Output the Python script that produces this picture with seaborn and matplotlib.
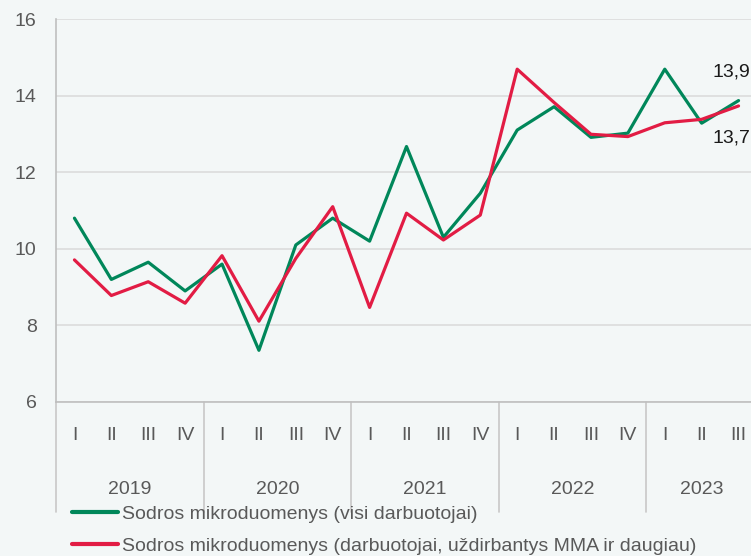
import matplotlib
matplotlib.use("Agg")
import matplotlib.pyplot as plt
import matplotlib.transforms as mtransforms
from matplotlib.lines import Line2D
import seaborn as sns
import pandas as pd

quarters = ["I", "II", "III", "IV", "I", "II", "III", "IV", "I", "II", "III", "IV",
            "I", "II", "III", "IV", "I", "II", "III"]
years = ["2019", "2020", "2021", "2022", "2023"]
year_sizes = [4, 4, 4, 4, 3]

series_green_name = "Sodros mikroduomenys (visi darbuotojai)"
series_red_name = "Sodros mikroduomenys (darbuotojai, uždirbantys MMA ir daugiau)"

green = [10.8, 9.2, 9.65, 8.9, 9.6, 7.35, 10.1, 10.8, 10.2, 12.67, 10.3, 11.45,
         13.1, 13.71, 12.91, 13.02, 14.69, 13.28, 13.87]
red = [9.71, 8.78, 9.14, 8.58, 9.82, 8.11, 9.75, 11.1, 8.47, 10.93, 10.23, 10.88,
       14.69, 13.82, 12.99, 12.93, 13.29, 13.38, 13.73]

end_labels = ["13,9", "13,7"]

sns.set_theme(style="white")
plt.rcParams["font.family"] = ["Liberation Sans", "DejaVu Sans"]

GREEN = "#00875a"
RED = "#e21c44"
GRAY = "#595959"

n = len(quarters)
df = pd.DataFrame({
    "idx": list(range(n)) * 2,
    "value": green + red,
    "series": [series_green_name] * n + [series_red_name] * n,
})

fig = plt.figure(figsize=(7.51, 5.56), dpi=100)
fig.patch.set_facecolor("#f3f7f7")
ax = fig.add_axes([56 / 751, 154 / 556, 701 / 751, 383 / 556])
ax.set_facecolor("none")

sns.lineplot(data=df, x="idx", y="value", hue="series",
             palette=[GREEN, RED], linewidth=2.3, ax=ax, legend=False)

ax.set_xlim(-0.5, n - 0.5)
ax.set_ylim(6, 16)
ax.set_yticks([6, 8, 10, 12, 14, 16])
ax.set_yticklabels(["6", "8", "10", "12", "14", "16"], fontsize=14, color=GRAY)
ax.tick_params(axis="y", length=0, pad=14)
ax.yaxis.grid(True, color="#dcdcdc", linewidth=1.2)
ax.set_axisbelow(True)

ax.set_xticks(range(n))
ax.set_xticklabels(quarters, fontsize=14, color=GRAY)
ax.tick_params(axis="x", length=0, pad=18)
ax.set_xlabel("")
ax.set_ylabel("")

for s in ["top", "right"]:
    ax.spines[s].set_visible(False)
ax.spines["left"].set_color("#bfbfbf")
ax.spines["bottom"].set_color("#bfbfbf")
ax.spines["left"].set_linewidth(1.2)
ax.spines["bottom"].set_linewidth(1.2)

trans = mtransforms.blended_transform_factory(ax.transData, ax.transAxes)
ylow = -(512 - 402) / 383
start = -0.5
for yr, sz in zip(years, year_sizes):
    ax.plot([start, start], [0, ylow], transform=trans, color="#c8c8c8",
            linewidth=1.2, clip_on=False)
    center = start + sz / 2
    ax.text(center, -(489 - 402) / 383, yr, transform=trans, ha="center",
            va="center", fontsize=14, color=GRAY)
    start += sz

ax.annotate(end_labels[0], xy=(n - 1, green[-1]), xytext=(-7, 29),
            textcoords="offset pixels", ha="center", va="center",
            fontsize=14, color="#1a1a1a", annotation_clip=False)
ax.annotate(end_labels[1], xy=(n - 1, red[-1]), xytext=(-7, -32),
            textcoords="offset pixels", ha="center", va="center",
            fontsize=14, color="#1a1a1a", annotation_clip=False)

handles = [Line2D([0], [0], color=GREEN, linewidth=3),
           Line2D([0], [0], color=RED, linewidth=3)]
leg = fig.legend(handles, [series_green_name, series_red_name],
                 loc="upper left", bbox_to_anchor=(72 / 751, 1 - 505 / 556),
                 frameon=False, fontsize=14, handlelength=2.35,
                 handletextpad=0.2, labelspacing=0.75, borderaxespad=0,
                 borderpad=0)
for t in leg.get_texts():
    t.set_color(GRAY)

fig.savefig("out.png", dpi=100, facecolor=fig.get_facecolor())
